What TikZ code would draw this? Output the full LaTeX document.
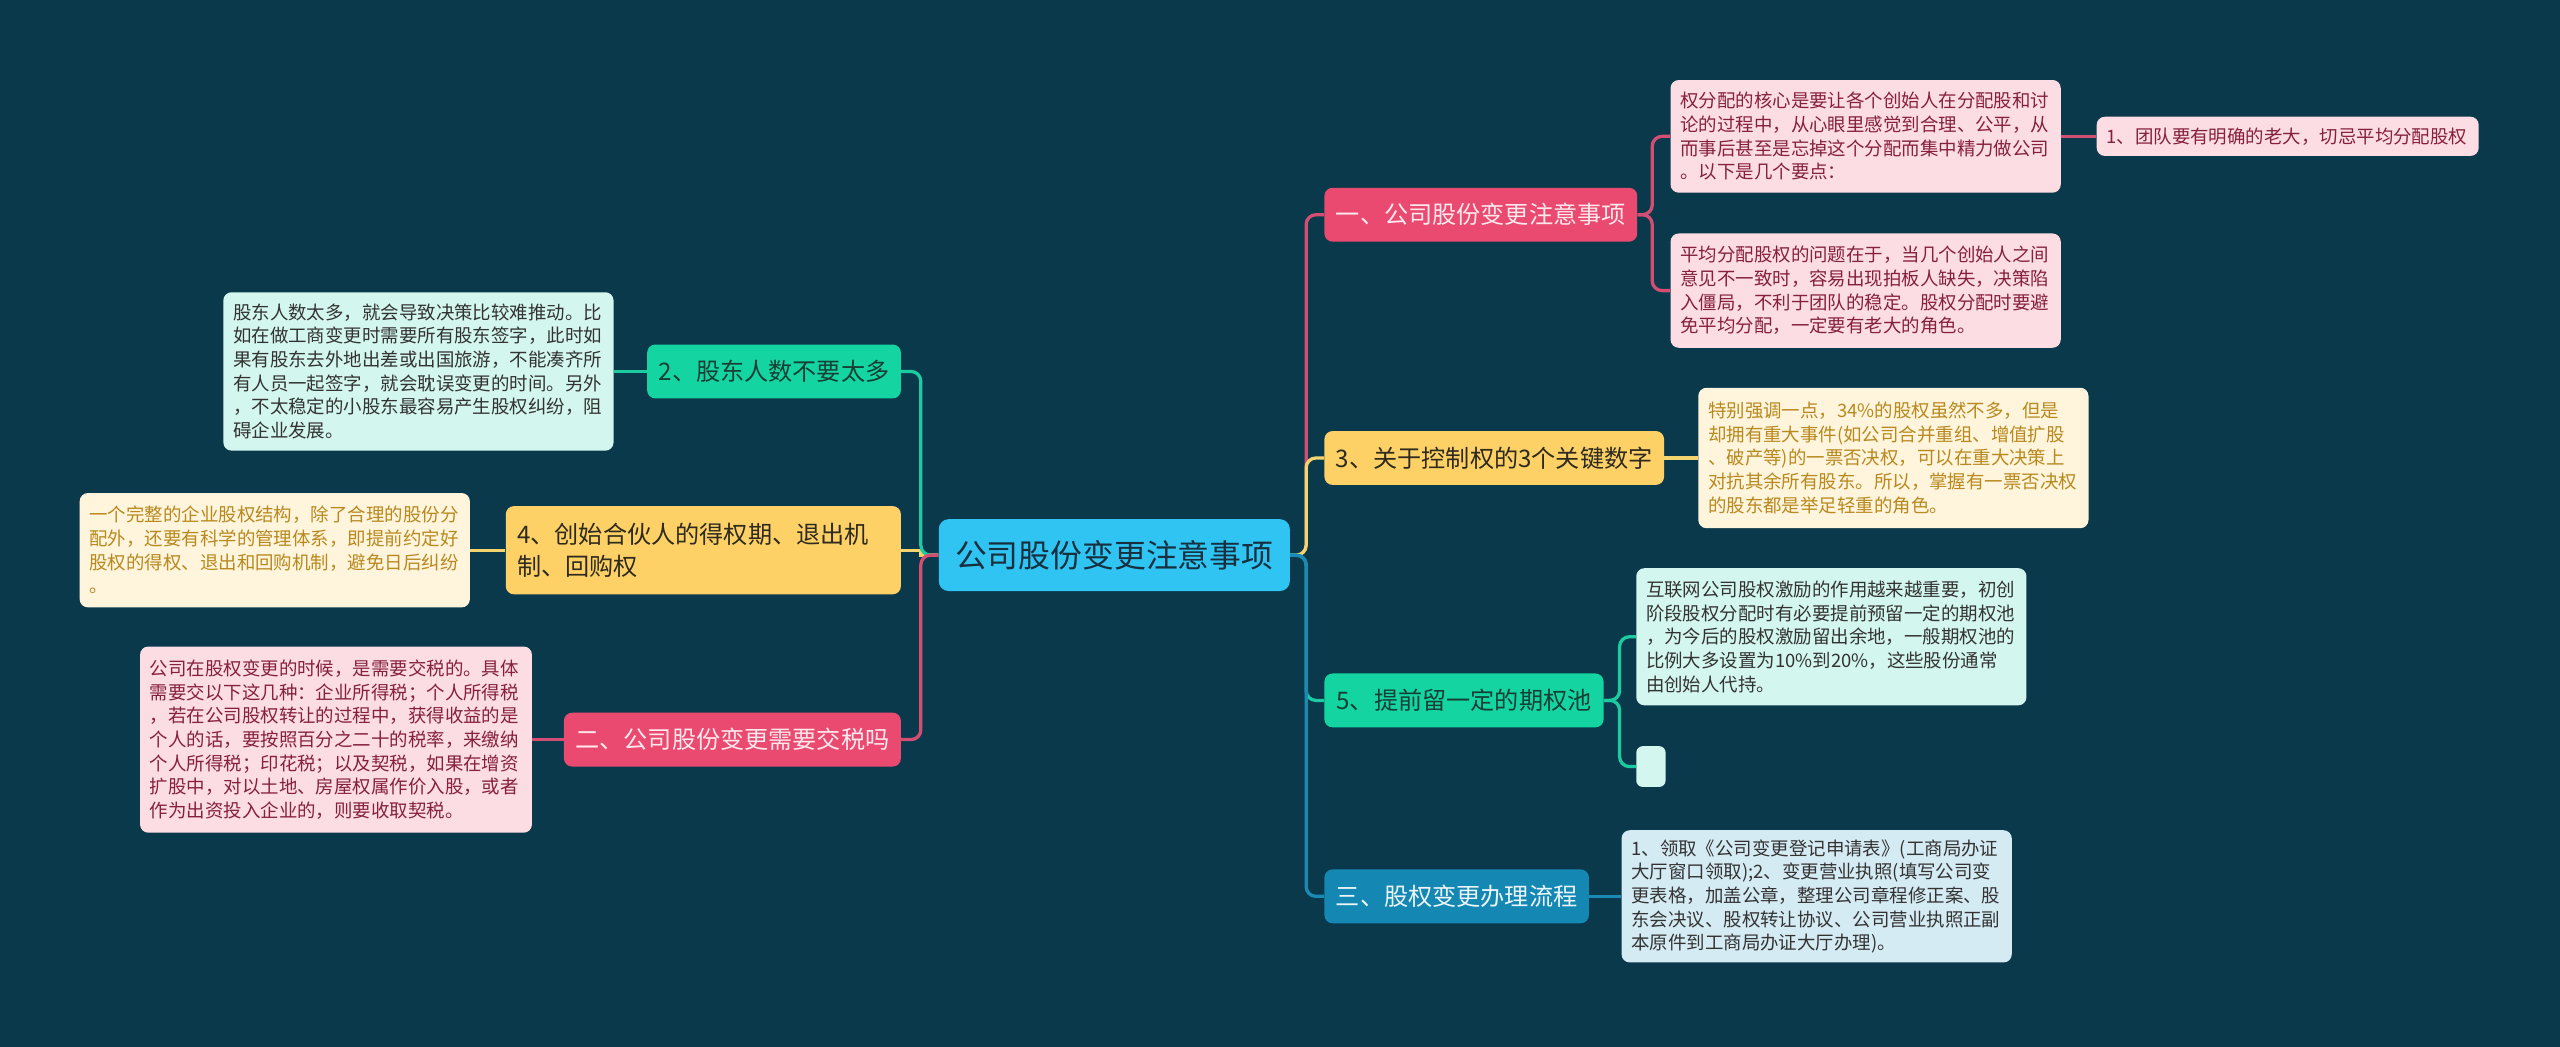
\documentclass[tikz,border=0pt]{standalone}
\usepackage{fontspec}
\setmainfont{Noto Sans CJK SC}
\definecolor{bg}{HTML}{0B394C}
\definecolor{cblue}{HTML}{30C4F2}
\definecolor{ctext}{HTML}{17303F}
\definecolor{pk}{HTML}{EA4A6F}
\definecolor{pktxt}{HTML}{FDE8EE}
\definecolor{yl}{HTML}{FDD166}
\definecolor{yltxt}{HTML}{2E2A1E}
\definecolor{gr}{HTML}{14D5A1}
\definecolor{grtxt}{HTML}{173E36}
\definecolor{bl}{HTML}{1587B3}
\definecolor{bltxt}{HTML}{EAF6FB}
\definecolor{pkline}{HTML}{D24F73}
\definecolor{ylline}{HTML}{F3D46E}
\definecolor{grline}{HTML}{1CCB9F}
\definecolor{blline}{HTML}{1A8AB5}
\definecolor{lpk}{HTML}{FDDDE4}
\definecolor{lpktxt}{HTML}{85203E}
\definecolor{lyl}{HTML}{FFF4DC}
\definecolor{lyltxt}{HTML}{B8891E}
\definecolor{lgr}{HTML}{D3F6EE}
\definecolor{lbl}{HTML}{D5EBF3}
\definecolor{ltxt}{HTML}{333333}
\tikzset{
  mainnode/.style={rounded corners=6pt, fill=cblue, text=ctext, inner sep=0pt,
    minimum width=215pt, minimum height=44pt, font=\fontsize{19.5}{24}\selectfont},
  br/.style={rounded corners=5pt, inner xsep=7pt, inner ysep=0pt, minimum height=33pt,
    font=\fontsize{14.8}{18}\selectfont},
  leaf/.style={rounded corners=5pt, inner xsep=6pt, inner ysep=0pt, text width=227pt,
    align=left, font=\fontsize{11.3}{14.5}\selectfont},
  ln/.style={line width=2pt, rounded corners=6pt}
}
\begin{document}
\begin{tikzpicture}[x=1pt,y=-1pt]
\fill[bg] (0,0) rectangle (1568,641);
\useasboundingbox (0,0) rectangle (1568,641);

% central
\node[mainnode] (c) at (682.5,340) {公司股份变更注意事项};

% right branches
\node[br, fill=pk, text=pktxt, minimum width=190pt, anchor=west] (n1) at (811,131.5) {一、公司股份变更注意事项};
\node[br, fill=yl, text=yltxt, minimum width=207pt, anchor=west] (n3) at (811,280.5) {3、关于控制权的3个关键数字};
\node[br, fill=gr, text=grtxt, minimum width=171pt, anchor=west] (n5) at (811,429) {5、提前留一定的期权池};
\node[br, fill=bl, text=bltxt, minimum width=160pt, anchor=west] (n6) at (811,549) {三、股权变更办理流程};

% left branches
\node[br, fill=gr, text=grtxt, minimum width=155pt, anchor=east] (n2) at (552,227.5) {2、股东人数不要太多};
\node[br, fill=yl, text=yltxt, minimum height=54pt, text width=228pt, align=left, anchor=east,
  font=\fontsize{14.8}{20}\selectfont] (n4) at (552,337) {4、创始合伙人的得权期、退出机\\制、回购权};
\node[br, fill=pk, text=pktxt, minimum width=205pt, anchor=east] (n7) at (552,453) {二、公司股份变更需要交税吗};

% right leaves
\node[leaf, fill=lpk, text=lpktxt, minimum height=69pt, anchor=west] (a) at (1023,83.5) {权分配的核心是要让各个创始人在分配股和讨\\论的过程中，从心眼里感觉到合理、公平，从\\而事后甚至是忘掉这个分配而集中精力做公司\\。以下是几个要点：};
\node[leaf, fill=lpk, text=lpktxt, text width=222pt, minimum height=24pt, anchor=west] (a1) at (1284,83.5) {1、团队要有明确的老大，切忌平均分配股权};
\node[leaf, fill=lpk, text=lpktxt, minimum height=70pt, anchor=west] (b) at (1023,178) {平均分配股权的问题在于，当几个创始人之间\\意见不一致时，容易出现拍板人缺失，决策陷\\入僵局，不利于团队的稳定。股权分配时要避\\免平均分配，一定要有老大的角色。};
\node[leaf, fill=lyl, text=lyltxt, minimum height=86pt, anchor=west] (c3) at (1040,280.5) {特别强调一点，34\%的股权虽然不多，但是\\却拥有重大事件(如公司合并重组、增值扩股\\、破产等)的一票否决权，可以在重大决策上\\对抗其余所有股东。所以，掌握有一票否决权\\的股东都是举足轻重的角色。};
\node[leaf, fill=lgr, text=ltxt, minimum height=84pt, anchor=west] (d) at (1002,390) {互联网公司股权激励的作用越来越重要，初创\\阶段股权分配时有必要提前预留一定的期权池\\，为今后的股权激励留出余地，一般期权池的\\比例大多设置为10\%到20\%，这些股份通常\\由创始人代持。};
\node[rounded corners=4pt, fill=lgr, inner sep=0pt, minimum width=18pt, minimum height=25pt, anchor=west] (d2) at (1002,469.5) {};
\node[leaf, fill=lbl, text=ltxt, minimum height=81pt, anchor=west] (e) at (993,549) {1、领取《公司变更登记申请表》(工商局办证\\大厅窗口领取);2、变更营业执照(填写公司变\\更表格，加盖公章，整理公司章程修正案、股\\东会决议、股权转让协议、公司营业执照正副\\本原件到工商局办证大厅办理)。};

% left leaves
\node[leaf, fill=lgr, text=ltxt, minimum height=97pt, anchor=east] (f) at (376,227.5) {股东人数太多，就会导致决策比较难推动。比\\如在做工商变更时需要所有股东签字，此时如\\果有股东去外地出差或出国旅游，不能凑齐所\\有人员一起签字，就会耽误变更的时间。另外\\，不太稳定的小股东最容易产生股权纠纷，阻\\碍企业发展。};
\node[leaf, fill=lyl, text=lyltxt, minimum height=70pt, anchor=east] (g) at (288,337) {一个完整的企业股权结构，除了合理的股份分\\配外，还要有科学的管理体系，即提前约定好\\股权的得权、退出和回购机制，避免日后纠纷\\。};
\node[leaf, fill=lpk, text=lpktxt, text width=228pt, minimum height=114pt, anchor=east] (h) at (326,453) {公司在股权变更的时候，是需要交税的。具体\\需要交以下这几种：企业所得税；个人所得税\\，若在公司股权转让的过程中，获得收益的是\\个人的话，要按照百分之二十的税率，来缴纳\\个人所得税；印花税；以及契税，如果在增资\\扩股中，对以土地、房屋权属作价入股，或者\\作为出资投入企业的，则要收取契税。};

% connectors: center to right branches
\draw[ln, pkline] (c.east) -- (800,340) |- (n1.west);
\draw[ln, ylline] (c.east) -- (800,340) |- (n3.west);
\draw[ln, grline] (c.east) -- (800,340) |- (n5.west);
\draw[ln, blline] (c.east) -- (800,340) |- (n6.west);

% connectors: center to left branches
\draw[line width=2pt, ylline] (c.west) -- (564,340) -- (564,337) -- (n4.east);
\draw[ln, grline] (c.west) -- (564,340) |- (n2.east);
\draw[ln, pkline] (c.west) -- (564,340) |- (n7.east);

% right sub-connectors
\draw[ln, pkline] (n1.east) -- (1012,131.5) |- (a.west);
\draw[ln, pkline] (n1.east) -- (1012,131.5) |- (b.west);
\draw[ln, pkline] (a.east) -- (a1.west);
\draw[ln, ylline] (n3.east) -- (c3.west);
\draw[ln, grline] (n5.east) -- (992,429) |- (d.west);
\draw[ln, grline] (n5.east) -- (992,429) |- (d2.west);
\draw[ln, blline] (n6.east) -- (e.west);

% left sub-connectors
\draw[ln, grline] (n2.west) -- (f.east);
\draw[ln, ylline] (n4.west) -- (g.east);
\draw[ln, pkline] (n7.west) -- (h.east);
\end{tikzpicture}
\end{document}
